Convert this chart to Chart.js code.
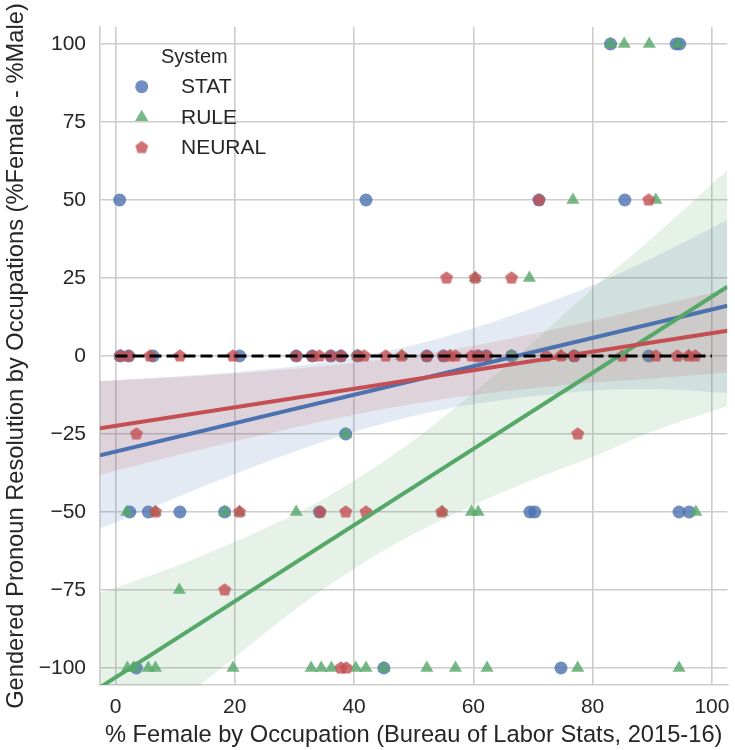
<!DOCTYPE html>
<html>
<head>
<meta charset="utf-8">
<title>Gendered pronoun resolution by occupation</title>
<script src="https://cdn.jsdelivr.net/npm/chart.js@4.4.1/dist/chart.umd.min.js"></script>
<style>
    html, body { margin: 0; padding: 0; background: #fff; }
    #wrap { width: 735px; height: 750px; }
</style>
</head>
<body>
<div id="wrap"><canvas id="occ-chart" width="735" height="750"></canvas></div>
<script>
////////////////////////////////////////////////////////////////////////////////
// Data
////////////////////////////////////////////////////////////////////////////////

const systems = ['STAT', 'RULE', 'NEURAL'];

// STAT - blue circles
const statX = [83, 94, 94.6,
               0.7, 42, 71, 85.4,
               0.8, 2.2, 6.3, 20.8, 30.3, 33, 36.1, 37.8, 40.6, 52.2, 55, 60.8, 62.2, 66.4, 76.9, 89.4,
               38.6,
               2.4, 5.5, 10.8, 18.3, 34.2, 69.5, 70.3, 94.5, 96.2,
               3.5, 45, 74.7];
const statY = [100, 100, 100,
               50, 50, 50, 50,
               0, 0, 0, 0, 0, 0, 0, 0, 0, 0, 0, 0, 0, 0, 0, 0,
               -25,
               -50, -50, -50, -50, -50, -50, -50, -50, -50,
               -100, -100, -100];

// RULE - green triangles
const ruleX = [83, 85.3, 89.5, 94.3,
               76.7, 90.6,
               60.3, 69.4,
               0.8, 40.6, 48, 56.1, 66.4, 74.7, 96.1,
               38.6,
               1.9, 6.7, 18.3, 20.8, 30.3, 54.8, 59.7, 60.8, 97.3,
               10.7,
               2, 3, 5.5, 6.7, 19.7, 32.8, 34.5, 36.2, 40.3, 42, 45, 52.2, 57, 62.3, 77.5, 94.5];
const ruleY = [100, 100, 100, 100,
               50, 50,
               25, 25,
               0, 0, 0, 0, 0, 0, 0,
               -25,
               -50, -50, -50, -50, -50, -50, -50, -50, -50,
               -75,
               -100, -100, -100, -100, -100, -100, -100, -100, -100, -100, -100, -100, -100, -100, -100, -100];

// NEURAL - red pentagons
const neuralX = [71, 89.4,
                 55.5, 60.3, 66.4,
                 0.8, 2.2, 5.8, 10.8, 19.7, 30.3, 33, 34.2, 36.1, 37.8, 40.6, 41.7, 45.3, 48, 52.2,
                 55, 56.1, 57, 59.7, 60.8, 62.2, 72.2, 74.7, 76.9, 85, 90.6, 94.2, 96.1, 97.2,
                 3.5, 77.5,
                 6.7, 20.8, 34.3, 38.6, 42, 54.7,
                 18.3,
                 37.8, 38.7];
const neuralY = [50, 50,
                 25, 25, 25,
                 0, 0, 0, 0, 0, 0, 0, 0, 0, 0, 0, 0, 0, 0, 0,
                 0, 0, 0, 0, 0, 0, 0, 0, 0, 0, 0, 0, 0, 0,
                 -25, -25,
                 -50, -50, -50, -50, -50, -50,
                 -75,
                 -100, -100];

// Regression fits (end points at the axis limits)
const fitX = [-2.6, 102.6];
const statFit = [-31.8, 16.1];
const ruleFit = [-106.2, 22.2];
const neuralFit = [-23.2, 8.1];

// Confidence bands
const bandX = [-2.6, 10, 20, 30, 40, 50, 60, 70, 80, 90, 102.6];
const statHi = [-8.0, -6.6, -5.2, -3.3, -0.5, 3.5, 8.9, 15.4, 22.7, 31.4, 43.6];
const statLo = [-55.4, -45.5, -37.8, -30.7, -24.3, -19.2, -15.5, -12.9, -11.1, -10.6, -11.9];
const ruleHi = [-76, -67.5, -59.5, -50.8, -40, -27, -11.8, 4.4, 21.6, 37.8, 59.6];
const ruleLo = [-132, -111.8, -96.6, -81.4, -68.2, -57, -47.8, -39.6, -32.4, -24.2, -16];
const neuralHi = [-8.1, -6.8, -5.6, -4.1, -2.2, 0.2, 3.3, 7.1, 11.3, 15.8, 21.3];
const neuralLo = [-38.1, -32.0, -27.4, -22.9, -18.8, -15.3, -12.5, -10.3, -8.5, -7.2, -5.3];

// Zero reference (dashed)
const refX = [0, 100];
const refY = [0, 0];

// Axis ticks
const xTicks = [0, 20, 40, 60, 80, 100];
const yTicks = [-100, -75, -50, -25, 0, 25, 50, 75, 100];

////////////////////////////////////////////////////////////////////////////////
// Styling helpers
////////////////////////////////////////////////////////////////////////////////

const BLUE = '76,114,176';
const GREEN = '85,168,104';
const RED = '196,78,82';
const TEXT = '#262626';
const GRID = '#cccccc';

const pts = (xs, ys) => xs.map((x, i) => ({ x: x, y: ys[i] }));

// matplotlib 'p' marker, Chart.js has no pentagon so build one
function makePentagon(r, color) {
    const size = 2 * Math.ceil(r + 1);
    const c = document.createElement('canvas');
    c.width = size;
    c.height = size;
    const g = c.getContext('2d');
    g.fillStyle = color;
    g.beginPath();
    for (let i = 0; i < 5; i++) {
        const a = -Math.PI / 2 + i * 2 * Math.PI / 5;
        const px = size / 2 + r * Math.cos(a);
        const py = size / 2 + r * Math.sin(a);
        if (i === 0) g.moveTo(px, py); else g.lineTo(px, py);
    }
    g.closePath();
    g.fill();
    return c;
}
const pentagon = makePentagon(6.8, `rgba(${RED},0.8)`);

function scatterSet(label, xs, ys, rgb, style, radius, order) {
    return {
        label: label,
        data: pts(xs, ys),
        showLine: false,
        pointStyle: style,
        pointRadius: radius,
        pointBorderWidth: 0,
        pointBackgroundColor: `rgba(${rgb},0.8)`,
        pointBorderColor: 'transparent',
        order: order
    };
}

function fitSet(ys, rgb, order) {
    return {
        data: pts(fitX, ys),
        borderColor: `rgb(${rgb})`,
        borderWidth: 4,
        pointRadius: 0,
        fill: false,
        order: order
    };
}

// lower edge + upper edge filled down to it
function bandSets(lo, hi, rgb, order) {
    const common = {
        borderWidth: 0,
        borderColor: 'transparent',
        pointRadius: 0,
        cubicInterpolationMode: 'monotone',
        order: order
    };
    return [
        Object.assign({ data: pts(bandX, lo), fill: false }, common),
        Object.assign({ data: pts(bandX, hi), fill: '-1', backgroundColor: `rgba(${rgb},0.15)` }, common)
    ];
}

////////////////////////////////////////////////////////////////////////////////
// Legend drawn inside the axes, like seaborn
////////////////////////////////////////////////////////////////////////////////

const systemLegend = {
    id: 'systemLegend',
    afterDraw(chart) {
        const ctx = chart.ctx;
        ctx.save();
        ctx.fillStyle = TEXT;
        ctx.textBaseline = 'alphabetic';
        ctx.font = "20px 'Liberation Sans', Arial, sans-serif";
        ctx.fillText('System', 161, 62.5);

        ctx.font = "21px 'Liberation Sans', Arial, sans-serif";
        const mx = 141.7;
        const rows = [86.7, 117.3, 147.6];
        systems.forEach((name, i) => {
            const cy = rows[i];
            if (i === 0) {
                ctx.fillStyle = `rgba(${BLUE},0.8)`;
                ctx.beginPath();
                ctx.arc(mx, cy, 6.5, 0, Math.PI * 2);
                ctx.fill();
            } else if (i === 1) {
                const r = 7.6;
                ctx.fillStyle = `rgba(${GREEN},0.8)`;
                ctx.beginPath();
                ctx.moveTo(mx, cy - r);
                ctx.lineTo(mx + r * Math.sin(2 * Math.PI / 3), cy + r / 2);
                ctx.lineTo(mx - r * Math.sin(2 * Math.PI / 3), cy + r / 2);
                ctx.closePath();
                ctx.fill();
            } else {
                ctx.drawImage(pentagon, mx - pentagon.width / 2, cy - pentagon.height / 2);
            }
            ctx.fillStyle = TEXT;
            ctx.fillText(name, 181, cy + 6.3);
        });
        ctx.restore();
    }
};

////////////////////////////////////////////////////////////////////////////////
// Chart
////////////////////////////////////////////////////////////////////////////////

Chart.defaults.font.family = "'Liberation Sans', Arial, sans-serif";
Chart.defaults.color = TEXT;

const minus = v => (v < 0 ? '\u2212' + Math.abs(v) : String(v));

// lower order is drawn on top
const datasets = [].concat(
    [{
        data: pts(refX, refY),
        borderColor: '#000',
        borderWidth: 3.2,
        borderDash: [12, 5],
        pointRadius: 0,
        fill: false,
        order: 0
    }],
    [fitSet(neuralFit, RED, 1), fitSet(ruleFit, GREEN, 2), fitSet(statFit, BLUE, 3)],
    bandSets(neuralLo, neuralHi, RED, 4),
    [scatterSet('NEURAL', neuralX, neuralY, RED, pentagon, 7, 5)],
    bandSets(ruleLo, ruleHi, GREEN, 6),
    [scatterSet('RULE', ruleX, ruleY, GREEN, 'triangle', 7.6, 7)],
    bandSets(statLo, statHi, BLUE, 8),
    [scatterSet('STAT', statX, statY, BLUE, 'circle', 6.5, 9)]
);

const occChart = new Chart(document.getElementById('occ-chart'), {
    type: 'line',
    data: { datasets: datasets },
    options: {
        responsive: false,
        animation: false,
        events: [],
        layout: { padding: { top: 27, right: 5, left: 0, bottom: 0 } },
        plugins: {
            legend: { display: false },
            tooltip: { enabled: false },
            filler: { propagate: false }
        },
        scales: {
            x: {
                type: 'linear',
                min: -2.6,
                max: 102.6,
                afterBuildTicks: s => { s.ticks = xTicks.map(v => ({ value: v })); },
                afterFit: s => {
                    s.height = 65;
                    // keep the end labels from shrinking the plot area
                    s.paddingLeft = 0;
                    s.paddingRight = 0;
                },
                ticks: {
                    font: { size: 21 },
                    color: TEXT,
                    padding: 10,
                    maxRotation: 0
                },
                grid: { color: GRID, lineWidth: 1.6, drawTicks: false },
                border: { display: true, color: GRID, width: 1.6 },
                title: {
                    display: true,
                    text: '% Female by Occupation (Bureau of Labor Stats, 2015-16)',
                    font: { size: 23.7 },
                    color: TEXT,
                    padding: { top: 0, bottom: 0 }
                }
            },
            y: {
                type: 'linear',
                min: -105.45,
                max: 105.45,
                afterBuildTicks: s => { s.ticks = yTicks.map(v => ({ value: v })); },
                afterFit: s => {
                    s.width = 100;
                    s.paddingTop = 0;
                    s.paddingBottom = 0;
                },
                ticks: {
                    font: { size: 21 },
                    color: TEXT,
                    padding: 14,
                    callback: minus
                },
                grid: { color: GRID, lineWidth: 1.6, drawTicks: false },
                border: { display: true, color: GRID, width: 1.6 },
                title: {
                    display: true,
                    text: 'Gendered Pronoun Resolution by Occupations (%Female - %Male)',
                    font: { size: 23.7 },
                    color: TEXT,
                    padding: { top: 2.5, bottom: 0 }
                }
            }
        }
    },
    plugins: [systemLegend]
});
</script>
</body>
</html>
